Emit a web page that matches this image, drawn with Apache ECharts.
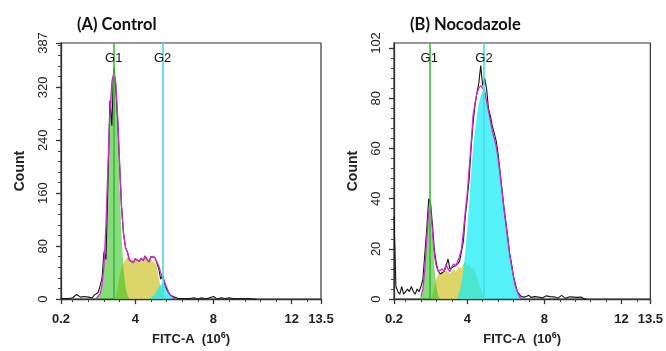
<!DOCTYPE html>
<html>
<head>
<meta charset="utf-8">
<script src="https://cdn.jsdelivr.net/npm/echarts@6/dist/echarts.min.js"></script>
<style>html,body{margin:0;padding:0;background:#fff}#c{width:666px;height:351px}</style>
</head>
<body>
<div id="c"></div>
<script>
// ---- data ----
const titles = ['(A) Control', '(B) Nocodazole'];
const xTickLabels = [0.2, 4, 8, 12, 13.5];
const xMinorTicks = [0.8, 1.6, 2.4, 3.2, 4.8, 5.6, 6.4, 7.2, 8.8, 9.6, 10.4, 11.2, 12.8];
const yTicksA = [0, 80, 160, 240, 320, 387];
const yMinorA = [16, 32, 48, 64, 96, 112, 128, 144, 176, 192, 208, 224, 256, 272, 288, 304, 336, 352, 368, 384];
const yTicksB = [0, 20, 40, 60, 80, 102];
const yMajorTickB = [0, 20, 40, 60, 80, 100];
const yMinorB = [4, 8, 12, 16, 24, 28, 32, 36, 44, 48, 52, 56, 64, 68, 72, 76, 84, 88, 92, 96];
const gateNames = ['G1', 'G2'];
const gatesA = [2.9, 5.4];
const gatesB = [2.03, 4.87];

const bins = [0.2,0.3,0.4,0.5,0.6,0.7,0.8,0.9,1.0,1.1,1.2,1.3,1.4,1.5,1.6,1.7,1.8,1.9,
  2.0,2.1,2.2,2.3,2.4,2.5,2.6,2.7,2.8,2.9,3.0,3.1,3.2,3.3,3.4,3.5,3.6,3.7,3.8,3.9,
  4.0,4.1,4.2,4.3,4.4,4.5,4.6,4.7,4.8,4.9,5.0,5.1,5.2,5.3,5.4,5.5,5.6,5.7,5.8,5.9,
  6.0,6.1,6.2,6.3,6.4,6.5,6.6,6.7,6.8,6.9,7.0,7.1,7.2,7.3,7.4,7.5,7.6,7.7,7.8,7.9,
  8.0,8.1,8.2,8.3,8.4,8.5,8.6,8.7,8.8,8.9,9.0,9.1,9.2,9.3,9.4,9.5,9.6,9.7,9.8,9.9,
  10.0,10.1,10.2];

// raw histogram (black)
const rawA = [1,0,1,0,1,1,2,3,7,5,3,6,4,2,3,5,2,6,
  4,10,20,32,72,60,175,300,262,350,
  322,268,200,136,99,78,71,59,62,55,
  61,64,57,62,58,65,60,56,64,61,
  63,63,46,30,36,24,15,10,6,4,
  3,2,1,2,1,2,1,2,1,1,
  2,1,0,1,2,1,0,1,2,1,
  4,1,0,1,2,0,1,0,2,0,
  1,0,1,0,1,0,1,0,1,0,
  0,0,0];
const rawB = [33,5,3,2,5,2,2,4,3,5,3,2,4,3,5,8,18,28,
  40,38,29,19,14,11,10,10,11,13,
  16,12,12,13,13,14,15,19,23,33,
  40,48,60,70,77,82,86,93,85,88,
  84,76,73,69,66,63,58,51,44,37,
  31,25,18,14,9,6,3,2,1,1.5,
  0.8,1,1.5,0.7,0.3,1,1.4,0.8,1,0.4,
  0.8,1.3,0.7,1,0.3,0.9,1.1,0.4,1,1.5,
  0.8,0.3,1,0.9,0.3,0.8,1.4,0.7,1.3,0.8,
  0.6,0,0];

// model fit (magenta)
const fitA = [[2.0,1],[2.1,2],[2.2,8],[2.3,22],[2.4,50],[2.5,112],[2.6,200],[2.7,280],[2.8,328],[2.9,342],
  [3.0,327],[3.1,276],[3.2,205],[3.3,140],[3.4,99],[3.5,78],[3.6,71],[3.7,59],[3.8,62],[3.9,55],
  [4.0,61],[4.1,64],[4.2,57],[4.3,62],[4.4,58],[4.5,65],[4.6,60],[4.7,56],[4.8,64],[4.9,61],
  [5.0,63],[5.1,63],[5.2,50],[5.3,40],[5.4,33],[5.5,26],[5.6,18],[5.7,11],[5.8,6],[5.9,3],[6.0,1],[6.1,0]];
const fitB = [[1.6,1],[1.7,4],[1.8,12],[1.9,24],[2.0,35],[2.1,36],[2.2,26],[2.3,17],[2.4,13],[2.5,11],
  [2.6,11],[2.7,12],[2.8,11],[2.9,14],[3.0,12],[3.1,11],[3.2,13],[3.3,14],[3.4,13],[3.5,15],
  [3.6,17],[3.7,20],[3.8,27],[3.9,35],[4.0,42],[4.1,52],[4.2,62],[4.3,73],[4.4,78],[4.5,82],
  [4.6,84],[4.7,85],[4.8,85],[4.9,83],[5.0,79],[5.1,75],[5.2,71],[5.3,67],[5.4,64],[5.5,61],
  [5.6,56],[5.7,50],[5.8,43],[5.9,36],[6.0,30],[6.1,24],[6.2,18],[6.3,13],[6.4,9],[6.5,5],[6.6,3],[6.7,1],[6.8,0]];

// G1 component (green)
const g1A = [[2.0,0],[2.1,2],[2.2,8],[2.3,22],[2.4,50],[2.5,112],[2.6,200],[2.7,280],[2.8,328],[2.9,342],
  [3.0,322],[3.1,258],[3.2,170],[3.3,92],[3.4,44],[3.5,18],[3.6,6],[3.7,1],[3.8,0]];
const g1B = [[1.5,0],[1.6,1],[1.7,4],[1.8,12],[1.9,24],[2.0,34],[2.1,34],[2.2,24],[2.3,12],[2.4,5],[2.5,1],[2.6,0]];

// S component (yellow)
const sA = [[2.9,0],[3.0,5],[3.1,18],[3.2,35],[3.3,48],[3.4,55],[3.5,60],[3.6,65],[3.7,58],[3.8,62],[3.9,55],
  [4.0,61],[4.1,64],[4.2,57],[4.3,62],[4.4,58],[4.5,65],[4.6,60],[4.7,56],[4.8,60],[4.9,57],
  [5.0,55],[5.1,50],[5.2,32],[5.3,18],[5.4,9],[5.5,4],[5.6,1],[5.7,0]];
const sB = [[2.1,0],[2.2,2],[2.3,5],[2.4,8],[2.5,10],[2.6,10],[2.7,11],[2.8,10],[2.9,12],[3.0,11],
  [3.1,10],[3.2,11],[3.3,12],[3.4,11],[3.5,12],[3.6,13],[3.7,12],[3.8,14],[3.9,15],[4.0,13],
  [4.1,14],[4.2,12],[4.3,13],[4.4,11],[4.5,9],[4.6,6],[4.7,4],[4.8,2],[4.9,1],[5.0,0]];

// G2 component (cyan)
const g2A = [[4.7,0],[4.8,2],[4.9,4],[5.0,8],[5.1,13],[5.2,18],[5.3,22],[5.4,24],[5.5,22],[5.6,17],
  [5.7,11],[5.8,6],[5.9,3],[6.0,1],[6.1,0]];
const g2B = [[3.5,1],[3.6,3],[3.7,6],[3.8,12],[3.9,19],[4.0,28],[4.1,38],[4.2,50],[4.3,60],[4.4,67],
  [4.5,73],[4.6,78],[4.7,81],[4.8,83],[4.9,82],[5.0,79],[5.1,75],[5.2,71],[5.3,67],[5.4,64],
  [5.5,61],[5.6,56],[5.7,50],[5.8,43],[5.9,36],[6.0,30],[6.1,24],[6.2,18],[6.3,13],[6.4,9],
  [6.5,5],[6.6,3],[6.7,1],[6.8,0]];

// ---- chart ----
const FONT = '"Liberation Sans", Arial, sans-serif';
const panels = [
  {raw: rawA, fit: fitA, g1: g1A, s: sA, g2: g2A, gates: gatesA, yMax: 387, yTicks: yTicksA, yMajor: yTicksA, yMinor: yMinorA, left: 61, titleLeft: 72},
  {raw: rawB, fit: fitB, g1: g1B, s: sB, g2: g2B, gates: gatesB, yMax: 102, yTicks: yTicksB, yMajor: yMajorTickB, yMinor: yMinorB, left: 394, titleLeft: 405}
];

const grid = [], xAxis = [], yAxis = [], series = [], title = [];
panels.forEach((p, i) => {
  grid.push({left: p.left, top: 43, width: 260, height: 259, show: true, borderColor: '#333', borderWidth: 1.2, backgroundColor: 'transparent'});
  title.push({text: titles[i], left: p.titleLeft, top: 11, textStyle: {fontFamily: 'Lato, "Open Sans", sans-serif', fontWeight: 'bold', fontSize: 16.5, color: '#111'}});
  xAxis.push({
    type: 'value', gridIndex: i, min: 0.2, max: 13.5, position: 'bottom',
    name: 'FITC-A  (10{sup|6})', nameLocation: 'middle', nameGap: 31,
    nameTextStyle: {fontFamily: FONT, fontSize: 13, fontWeight: 'bold', color: '#222',
      rich: {sup: {fontFamily: FONT, fontSize: 9, fontWeight: 'bold', color: '#222', verticalAlign: 'top', padding: [0, 0, 8, 0]}}},
    axisLine: {lineStyle: {color: '#333', width: 1.3}},
    axisTick: {customValues: xTickLabels, length: 5, lineStyle: {color: '#333', width: 1.3}},
    axisLabel: {customValues: xTickLabels, margin: 14, fontFamily: FONT, fontSize: 13, fontWeight: 'bold', color: '#222'},
    splitLine: {show: false}
  });
  xAxis.push({
    type: 'value', gridIndex: i, min: 0.2, max: 13.5, position: 'bottom',
    axisLine: {show: false},
    axisTick: {customValues: xMinorTicks, length: 3, lineStyle: {color: '#444', width: 1}},
    axisLabel: {show: false}, splitLine: {show: false}
  });
  yAxis.push({
    type: 'value', gridIndex: i, min: 0, max: p.yMax, position: 'left',
    name: 'Count', nameLocation: 'middle', nameGap: 34,
    nameTextStyle: {fontFamily: FONT, fontSize: 14, fontWeight: 'bold', color: '#222'},
    axisLine: {show: true, lineStyle: {color: '#333', width: 1.3}},
    axisTick: {show: true, customValues: p.yMajor, length: 5, lineStyle: {color: '#333', width: 1.3}},
    axisLabel: {customValues: p.yTicks, rotate: 90, margin: 11, fontFamily: FONT, fontSize: 13, color: '#222'},
    splitLine: {show: false}
  });
  yAxis.push({
    type: 'value', gridIndex: i, min: 0, max: p.yMax, position: 'left',
    axisLine: {show: false},
    axisTick: {show: true, customValues: p.yMinor, length: 3, lineStyle: {color: '#444', width: 1}},
    axisLabel: {show: false}, splitLine: {show: false}
  });
  const xi = i * 2, yi = i * 2;
  const area = (name, data, color) => ({
    name, type: 'line', xAxisIndex: xi, yAxisIndex: yi, data, symbol: 'none', silent: true,
    lineStyle: {width: 0}, areaStyle: {color, opacity: 1}, animation: false
  });
  series.push(area('S', p.s, 'rgba(216,206,80,0.85)'));
  series.push(area('G1', p.g1, 'rgba(55,195,35,0.6)'));
  series.push(area('G2', p.g2, 'rgba(20,235,245,0.72)'));
  series.push({
    name: 'raw', type: 'line', xAxisIndex: xi, yAxisIndex: yi, symbol: 'none', animation: false,
    data: bins.map((x, k) => [x, p.raw[k]]), lineStyle: {color: '#151515', width: 1.1}
  });
  series.push({
    name: 'fit', type: 'line', xAxisIndex: xi, yAxisIndex: yi, symbol: 'none', animation: false,
    data: p.fit, lineStyle: {color: '#cc2ccc', width: 1.3}
  });
  series.push({
    name: 'gates', type: 'line', xAxisIndex: xi, yAxisIndex: yi, data: [], animation: false,
    markLine: {
      silent: true, symbol: 'none', animation: false,
      data: p.gates.map((g, k) => ({
        xAxis: g,
        lineStyle: {color: k === 0 ? '#3cb83c' : '#46dbe4', width: 1.6, type: 'solid'},
        label: {show: true, position: 'end', distance: -22, formatter: gateNames[k], fontFamily: FONT, fontSize: 13, color: '#111'}
      }))
    }
  });
});

const chart = echarts.init(document.getElementById('c'), null, {renderer: 'canvas'});
chart.setOption({animation: false, backgroundColor: '#fff', title, grid, xAxis, yAxis, series});
</script>
</body>
</html>
